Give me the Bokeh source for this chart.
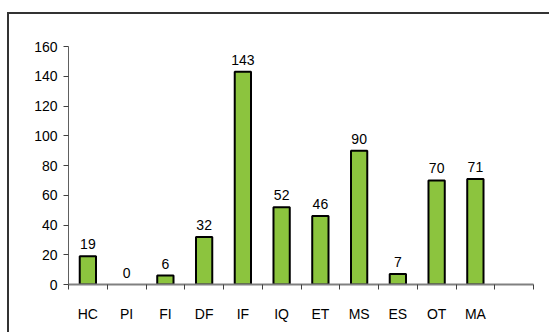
from bokeh.plotting import figure
from bokeh.layouts import column
from bokeh.models import ColumnDataSource, FixedTicker, Range1d
from bokeh.core.properties import value
from bokeh.embed import file_html
from bokeh.resources import INLINE

# ---- data ----
categories = ["HC", "PI", "FI", "DF", "IF", "IQ", "ET", "MS", "ES", "OT", "MA"]
counts = [19, 0, 6, 32, 143, 52, 46, 90, 7, 70, 71]
y_ticks = [0, 20, 40, 60, 80, 100, 120, 140, 160]
n_slots = 12  # 11 categories plus one empty slot at the right

FONT = "Liberation Sans"
GREEN = "#8CC43E"

x_pos = [i + 0.5 for i in range(len(categories))]
src = ColumnDataSource(dict(
    x=x_pos,
    top=counts,
    label=[str(c) for c in counts],
    line=["black" if c > 0 else None for c in counts],
))

p = figure(
    width=556, height=318,
    output_backend="svg", toolbar_location=None,
    x_range=Range1d(0, n_slots), y_range=Range1d(0, y_ticks[-1]),
    min_border_left=59, min_border_right=32, min_border_top=32, min_border_bottom=48,
)
p.outline_line_color = None
p.background_fill_color = "white"
p.border_fill_color = "white"
p.grid.visible = False

p.vbar(x="x", top="top", bottom=0, width=0.42, source=src,
       fill_color=GREEN, line_color="line", line_width=2)

p.text(x="x", y="top", text="label", source=src,
       text_align="center", text_baseline="alphabetic", y_offset=-12,
       text_font=value(FONT), text_font_size="14px", text_color="black")

# x axis: labels at slot centres, tick marks between slots
xa = p.xaxis[0]
xa.ticker = FixedTicker(ticks=x_pos, minor_ticks=list(range(n_slots + 1)))
xa.major_label_overrides = {x: c for x, c in zip(x_pos, categories)}
xa.major_tick_out = 0
xa.major_tick_in = 0
xa.minor_tick_out = 5
xa.minor_tick_in = 0
xa.minor_tick_line_color = "#404040"
xa.axis_line_color = "#808080"
xa.axis_line_width = 2
xa.major_label_standoff = 16
xa.major_label_text_font = FONT
xa.major_label_text_font_size = "14px"
xa.major_label_text_color = "black"

ya = p.yaxis[0]
ya.ticker = FixedTicker(ticks=y_ticks, minor_ticks=[])
ya.major_tick_out = 5
ya.major_tick_in = 0
ya.minor_tick_out = 0
ya.minor_tick_in = 0
ya.axis_line_color = "#606060"
ya.major_tick_line_color = "#404040"
ya.major_label_standoff = 6
ya.major_label_text_font = FONT
ya.major_label_text_font_size = "14px"
ya.major_label_text_color = "black"

# outer chart-area frame: only its top and left edges fall inside the window
layout = column(p, styles={
    "border-top": "2px solid #333333",
    "border-left": "2px solid #333333",
    "margin-top": "12px",
    "margin-left": "7px",
})

open("out.html", "w").write(file_html(layout, INLINE))
